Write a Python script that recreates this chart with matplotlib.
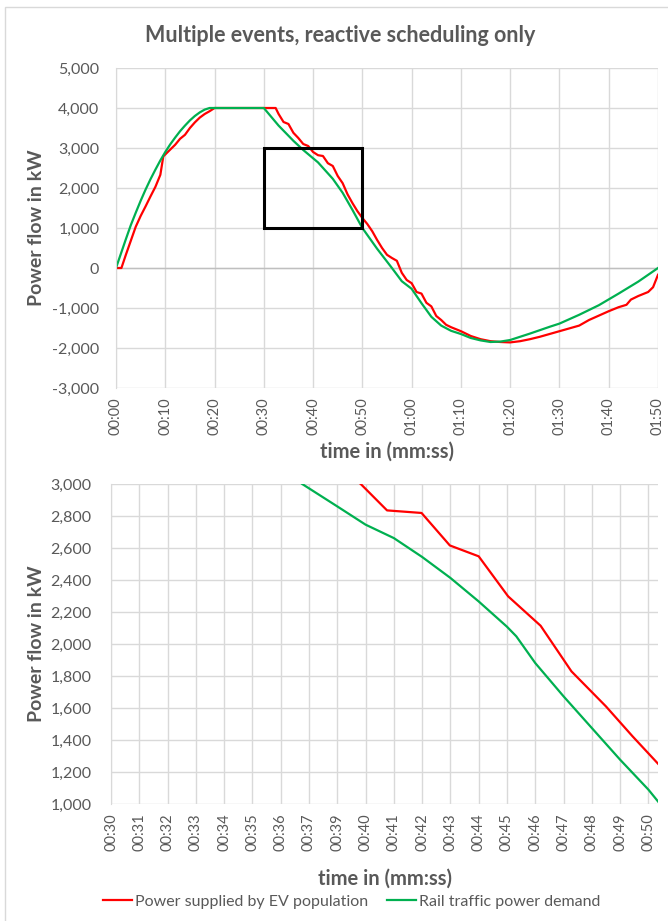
import matplotlib
matplotlib.use("Agg")
import matplotlib.pyplot as plt
from matplotlib.patches import Rectangle
from matplotlib.lines import Line2D
from matplotlib.ticker import FuncFormatter

plt.rcParams['font.family'] = ['Lato', 'DejaVu Sans']

# top chart: time in seconds, power in kW
green_t = [0, 1, 2, 3, 4, 5, 6, 7, 8, 9, 10, 11, 12, 13, 14, 15, 16, 17, 18, 19, 30,
           33, 36, 38, 41, 44, 46, 48, 50, 53, 56, 58, 60, 62, 64, 66, 68, 70, 72, 74,
           76, 78, 80, 84, 88, 90, 94, 98, 102, 106, 110]
green_p = [0, 360, 720, 1070, 1380, 1680, 1960, 2220, 2460, 2690, 2900, 3090, 3260, 3420,
           3560, 3690, 3800, 3890, 3960, 4000, 4000,
           3560, 3180, 2950, 2640, 2230, 1880, 1450, 1000, 480, 0, -330, -520, -880, -1220,
           -1440, -1570, -1650, -1750, -1810, -1850, -1840, -1800, -1640, -1470, -1390,
           -1170, -930, -640, -340, 0]

red_t = [0, 1.1, 2, 3, 4, 5, 6, 7, 8, 9, 9.6, 11, 12, 13, 14, 15, 16, 17, 18, 19, 20,
         32.4, 33, 34, 35, 36, 37, 38, 39, 40, 41, 42, 43, 44, 45, 46, 47, 48, 49, 50,
         51, 52, 53, 54, 55, 56, 57, 58, 59, 60, 61, 62, 63, 64, 65, 66, 67, 68, 70, 72,
         74, 76, 78, 80, 82, 84, 86, 88, 90, 92, 94, 96, 98, 100, 102, 103.6, 104.5, 106,
         108, 109, 110]
red_p = [0, 0, 330, 680, 1030, 1300, 1540, 1790, 2030, 2330, 2790, 2960, 3080, 3230, 3330,
         3500, 3640, 3760, 3850, 3920, 4000,
         4000, 3850, 3650, 3600, 3380, 3250, 3100, 3050, 2900, 2820, 2800, 2620, 2550, 2300,
         2120, 1840, 1620, 1420, 1250, 1100, 920, 700, 500, 330, 250, 180, -120, -300, -380,
         -600, -640, -870, -960, -1200, -1300, -1420, -1480, -1580, -1700, -1780, -1830,
         -1850, -1860, -1830, -1780, -1720, -1650, -1580, -1510, -1440, -1300, -1190, -1080,
         -980, -920, -790, -700, -600, -480, -170]

top_ticks = list(range(0, 111, 10))
top_labels = ['00:00', '00:10', '00:20', '00:30', '00:40', '00:50', '01:00', '01:10',
              '01:20', '01:30', '01:40', '01:50']

# zoomed chart: category positions as drawn by the source chart
zoom_labels = ['00:30', '00:31', '00:32', '00:33', '00:34', '00:35', '00:36', '00:37',
               '00:39', '00:40', '00:41', '00:42', '00:43', '00:44', '00:45', '00:46',
               '00:47', '00:48', '00:49', '00:50']
zoom_green_x = [0, 6.76, 8, 9, 10, 11, 12, 13, 14, 14.33, 15, 16, 17, 18, 19, 19.34]
zoom_green_p = [4000, 3000, 2860, 2746, 2662, 2544, 2413, 2266, 2108, 2048, 1881, 1673,
                1475, 1277, 1090, 1016]
zoom_red_x = [0, 2.2, 5, 8.83, 9.76, 10.98, 11.98, 13.0, 14.04, 15.19, 16.28, 17.5,
              18.44, 19.34]
zoom_red_p = [4000, 4000, 3500, 3000, 2835, 2819, 2616, 2548, 2298, 2114, 1829, 1610,
              1423, 1252]

RED = '#ff0000'
GREEN = '#00b050'
GRID = '#d9d9d9'
TXT = '#595959'

fig = plt.figure(figsize=(6.68, 9.21), dpi=100)
W, H = 668, 921


def box(l, t, r, b):
    return [l / W, 1 - b / H, (r - l) / W, (b - t) / H]


thousands = FuncFormatter(lambda v, p: '{:,.0f}'.format(v))


def style(ax, left, right, top, bottom, xlab_y, ypad):
    ax.grid(True, color=GRID, lw=1)
    ax.set_axisbelow(True)
    for s in ['top', 'right', 'bottom']:
        ax.spines[s].set_visible(False)
    ax.spines['left'].set_color(GRID)
    ax.tick_params(length=0, colors=TXT)
    ax.tick_params(axis='y', labelsize=11.5, pad=ypad)
    ax.tick_params(axis='x', labelsize=10.5, pad=7, labelrotation=90)
    ax.yaxis.set_major_formatter(thousands)
    ax.set_ylabel('Power flow in kW', fontsize=14, fontweight='bold', color=TXT)
    ax.yaxis.label.set_va('center')
    ax.yaxis.set_label_coords((37 - left) / (right - left), 0.5)
    ax.set_xlabel('time in (mm:ss)', fontsize=14.5, fontweight='bold', color=TXT)
    ax.xaxis.label.set_va('center')
    ax.xaxis.set_label_coords(0.5, -(xlab_y - bottom) / (bottom - top))


# ---- top chart ----
ax1 = fig.add_axes(box(116, 68, 658, 388))
ax1.plot(red_t, red_p, color=RED, lw=1.6)
ax1.plot(green_t, green_p, color=GREEN, lw=1.6)
ax1.axhline(0, color='#bfbfbf', lw=1, zorder=1)
ax1.add_patch(Rectangle((30, 1000), 20, 2000, fill=False, edgecolor='black', lw=2.2, zorder=5))
ax1.set_xlim(0, 110)
ax1.set_ylim(-3000, 5000)
ax1.set_yticks(range(-3000, 5001, 1000))
ax1.set_xticks(top_ticks)
ax1.set_xticklabels(top_labels)
style(ax1, 116, 658, 68, 388, 452, 12)

fig.text(0.51, 1 - 35 / H, 'Multiple events, reactive scheduling only', fontsize=15.5,
         fontweight='bold', color=TXT, ha='center', va='center')

# ---- zoomed chart ----
ax2 = fig.add_axes(box(111, 484, 658, 804))
ax2.plot(zoom_red_x, zoom_red_p, color=RED, lw=1.6)
ax2.plot(zoom_green_x, zoom_green_p, color=GREEN, lw=1.6)
ax2.set_xlim(0, 19.34)
ax2.set_ylim(1000, 3000)
ax2.set_yticks(range(1000, 3001, 200))
ax2.set_xticks(range(len(zoom_labels)))
ax2.set_xticklabels(zoom_labels)
style(ax2, 111, 658, 484, 804, 879, 14)

handles = [Line2D([], [], color=RED, lw=1.6), Line2D([], [], color=GREEN, lw=1.6)]
fig.legend(handles, ['Power supplied by EV population', 'Rail traffic power demand'],
           loc='center', bbox_to_anchor=(352 / W, 1 - 902 / H), ncol=2, frameon=False,
           fontsize=11.5, labelcolor=TXT, handlelength=1.8, handletextpad=0.2,
           columnspacing=1.2, borderpad=0)

# outer chart frame
fig.add_artist(Rectangle((5 / W, -0.01), 1.0, 1 - 7 / H + 0.01, transform=fig.transFigure,
                         fill=False, edgecolor=GRID, lw=1))

fig.savefig('out.png', dpi=100)
